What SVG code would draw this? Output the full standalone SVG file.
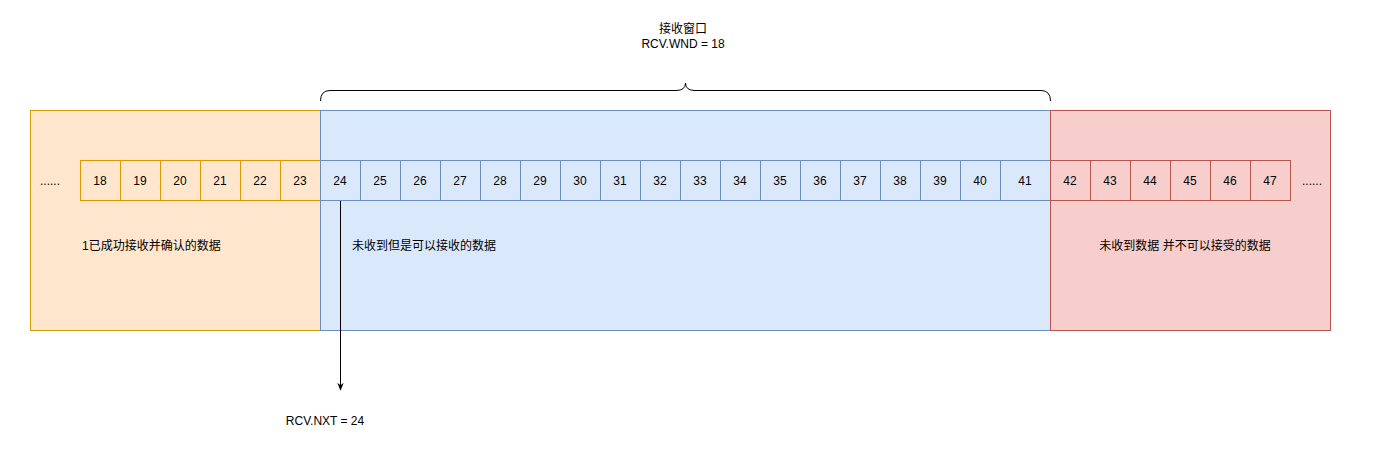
<svg xmlns="http://www.w3.org/2000/svg" width="1381" height="451" viewBox="0 0 1381 451">
<defs>
<style>
text{font-family:"Liberation Sans","Noto Sans CJK SC",sans-serif;font-size:12px;fill:#000}
.c{text-anchor:middle}
.o{fill:#ffe6cc;stroke:#d79b00}
.b{fill:#dae8fc;stroke:#6c8ebf}
.r{fill:#f8cecc;stroke:#b85450}
</style>
<marker id="ah" viewBox="0 0 10 10" refX="9" refY="5" markerWidth="8" markerHeight="8" orient="auto" markerUnits="userSpaceOnUse">
<path d="M0,1 L10,5 L0,9 L3,5 Z" fill="#000"/>
</marker>
</defs>
<rect width="1381" height="451" fill="#fff"/>
<g id="zone-acked"><rect class="o" x="30.5" y="110.5" width="290" height="220"/><text x="82" y="250">1已成功接收并确认的数据</text><text x="50" y="185" class="c">......</text></g>
<g id="zone-window"><rect class="b" x="320.5" y="110.5" width="730" height="220"/><text x="352" y="250">未收到但是可以接收的数据</text></g>
<g id="zone-notallowed"><rect class="r" x="1050.5" y="110.5" width="280" height="220"/><text x="1185" y="250" class="c">未收到数据 并不可以接受的数据</text><text x="1312" y="185" class="c">......</text></g>
<g id="cells-acked">
<rect class="o" x="80.5" y="160.5" width="40" height="40"/><text class="c" x="100" y="185">18</text>
<rect class="o" x="120.5" y="160.5" width="40" height="40"/><text class="c" x="140" y="185">19</text>
<rect class="o" x="160.5" y="160.5" width="40" height="40"/><text class="c" x="180" y="185">20</text>
<rect class="o" x="200.5" y="160.5" width="40" height="40"/><text class="c" x="220" y="185">21</text>
<rect class="o" x="240.5" y="160.5" width="40" height="40"/><text class="c" x="260" y="185">22</text>
<rect class="o" x="280.5" y="160.5" width="40" height="40"/><text class="c" x="300" y="185">23</text>
</g>
<g id="cells-window">
<rect class="b" x="320.5" y="160.5" width="40" height="40"/><text class="c" x="340" y="185">24</text>
<rect class="b" x="360.5" y="160.5" width="40" height="40"/><text class="c" x="380" y="185">25</text>
<rect class="b" x="400.5" y="160.5" width="40" height="40"/><text class="c" x="420" y="185">26</text>
<rect class="b" x="440.5" y="160.5" width="40" height="40"/><text class="c" x="460" y="185">27</text>
<rect class="b" x="480.5" y="160.5" width="40" height="40"/><text class="c" x="500" y="185">28</text>
<rect class="b" x="520.5" y="160.5" width="40" height="40"/><text class="c" x="540" y="185">29</text>
<rect class="b" x="560.5" y="160.5" width="40" height="40"/><text class="c" x="580" y="185">30</text>
<rect class="b" x="600.5" y="160.5" width="40" height="40"/><text class="c" x="620" y="185">31</text>
<rect class="b" x="640.5" y="160.5" width="40" height="40"/><text class="c" x="660" y="185">32</text>
<rect class="b" x="680.5" y="160.5" width="40" height="40"/><text class="c" x="700" y="185">33</text>
<rect class="b" x="720.5" y="160.5" width="40" height="40"/><text class="c" x="740" y="185">34</text>
<rect class="b" x="760.5" y="160.5" width="40" height="40"/><text class="c" x="780" y="185">35</text>
<rect class="b" x="800.5" y="160.5" width="40" height="40"/><text class="c" x="820" y="185">36</text>
<rect class="b" x="840.5" y="160.5" width="40" height="40"/><text class="c" x="860" y="185">37</text>
<rect class="b" x="880.5" y="160.5" width="40" height="40"/><text class="c" x="900" y="185">38</text>
<rect class="b" x="920.5" y="160.5" width="40" height="40"/><text class="c" x="940" y="185">39</text>
<rect class="b" x="960.5" y="160.5" width="40" height="40"/><text class="c" x="980" y="185">40</text>
<rect class="b" x="1000.5" y="160.5" width="50" height="40"/><text class="c" x="1025" y="185">41</text>
</g>
<g id="cells-notallowed">
<rect class="r" x="1050.5" y="160.5" width="40" height="40"/><text class="c" x="1070" y="185">42</text>
<rect class="r" x="1090.5" y="160.5" width="40" height="40"/><text class="c" x="1110" y="185">43</text>
<rect class="r" x="1130.5" y="160.5" width="40" height="40"/><text class="c" x="1150" y="185">44</text>
<rect class="r" x="1170.5" y="160.5" width="40" height="40"/><text class="c" x="1190" y="185">45</text>
<rect class="r" x="1210.5" y="160.5" width="40" height="40"/><text class="c" x="1230" y="185">46</text>
<rect class="r" x="1250.5" y="160.5" width="40" height="40"/><text class="c" x="1270" y="185">47</text>
</g>
<g id="window-label">
<text class="c" x="683" y="33">接收窗口</text>
<text class="c" x="683" y="48">RCV.WND = 18</text>
</g>
<g id="nxt-label"><text class="c" x="325" y="425">RCV.NXT = 24</text></g>
<g id="connectors" fill="none" stroke="#000">
<path d="M320.5,101 Q320.5,90.5 330,90.5 L676,90.5 Q685.5,90.5 685.5,83 Q685.5,90.5 695,90.5 L1041,90.5 Q1050.5,90.5 1050.5,101"/>
<path d="M340.5,201 L340.5,390" marker-end="url(#ah)"/>
</g>
</svg>
